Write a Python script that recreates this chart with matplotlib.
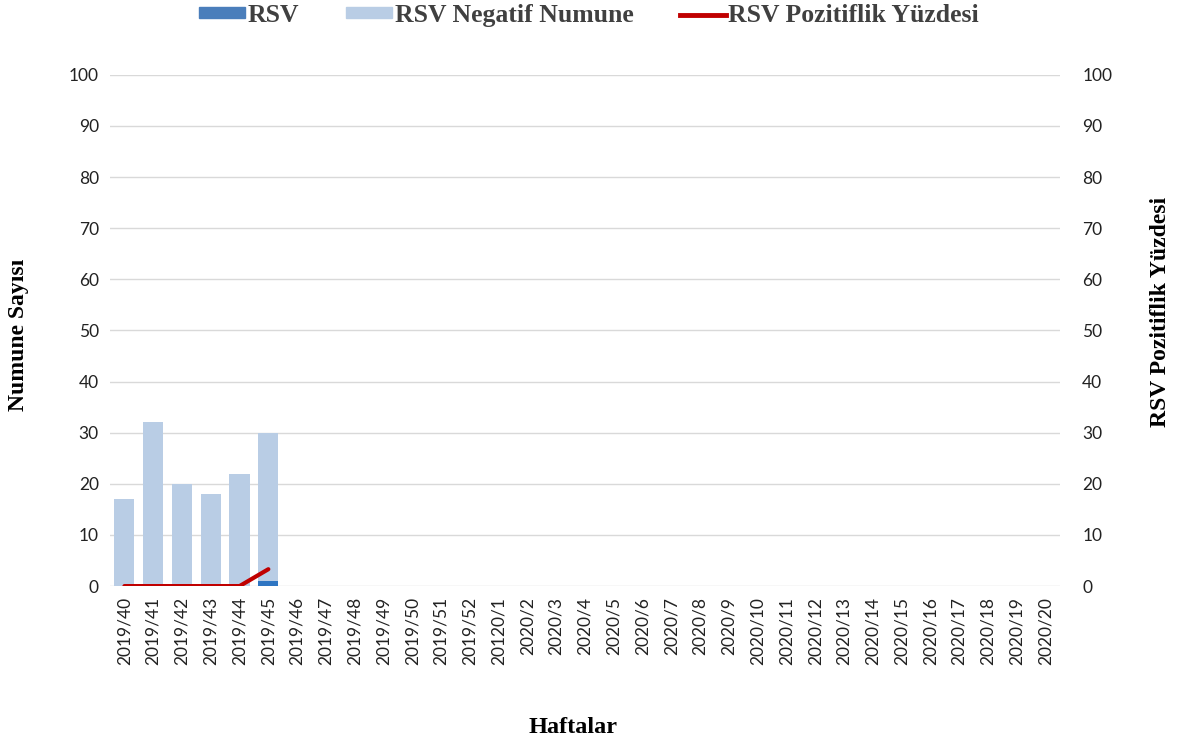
import matplotlib.pyplot as plt
from matplotlib.patches import Patch
from matplotlib.lines import Line2D

weeks = ["2019/40", "2019/41", "2019/42", "2019/43", "2019/44", "2019/45", "2019/46",
         "2019/47", "2019/48", "2019/49", "2019/50", "2019/51", "2019/52", "20120/1",
         "2020/2", "2020/3", "2020/4", "2020/5", "2020/6", "2020/7", "2020/8", "2020/9",
         "2020/10", "2020/11", "2020/12", "2020/13", "2020/14", "2020/15", "2020/16",
         "2020/17", "2020/18", "2020/19", "2020/20"]
rsv = [0, 0, 0, 0, 0, 1]
rsv_negatif = [17, 32, 20, 18, 22, 29]
pozitiflik = [0, 0, 0, 0, 0, 3.3]

c_rsv = "#2e75c2"
c_neg = "#b9cde5"
c_line = "#c00000"
serif = "Liberation Serif"
tick_font = "Lato"


def main():
    fig = plt.figure(figsize=(11.83, 7.4), dpi=100)
    ax = fig.add_axes([0.093, 0.208, 0.803, 0.691])
    x = list(range(len(weeks)))
    n = len(rsv)

    ax.bar(x[:n], rsv, width=0.7, color=c_rsv, zorder=2)
    ax.bar(x[:n], rsv_negatif, width=0.7, bottom=rsv, color=c_neg, zorder=2)

    ax.set_xlim(-0.5, len(weeks) - 0.5)
    ax.set_ylim(0, 100)
    ax.set_yticks(range(0, 101, 10))
    ax.set_xticks(x)
    ax.set_xticklabels(weeks, rotation=90, fontfamily=tick_font, fontsize=12, color="#222222")
    ax.grid(axis="y", color="#d9d9d9", lw=1, zorder=0)
    for s in ax.spines.values():
        s.set_visible(False)
    ax.tick_params(length=0, labelsize=12.5, labelcolor="#222222", pad=8)
    for t in ax.get_yticklabels():
        t.set_fontfamily(tick_font)

    ax2 = ax.twinx()
    ax2.plot(x[:n], pozitiflik, color=c_line, lw=3, solid_capstyle="round", zorder=3)
    ax2.set_ylim(0, 100)
    ax2.set_yticks(range(0, 101, 10))
    for s in ax2.spines.values():
        s.set_visible(False)
    ax2.tick_params(length=0, labelsize=12.5, labelcolor="#222222", pad=16)
    for t in ax2.get_yticklabels():
        t.set_fontfamily(tick_font)

    fig.text(0.016, 0.547, "Numune Sayısı", rotation=90, ha="center", va="center",
             fontfamily=serif, fontweight="bold", fontsize=17)
    fig.text(0.981, 0.578, "RSV Pozitiflik Yüzdesi", rotation=90, ha="center", va="center",
             fontfamily=serif, fontweight="bold", fontsize=17)
    fig.text(0.484, 0.017, "Haftalar", ha="center", va="center",
             fontfamily=serif, fontweight="bold", fontsize=17.5)

    handles = [Patch(color="#4a7ebb"), Patch(color=c_neg), Line2D([], [], color=c_line, lw=3.5)]
    labels = ["RSV", "RSV Negatif Numune", "RSV Pozitiflik Yüzdesi"]
    fig.legend(handles, labels, loc="center", bbox_to_anchor=(0.498, 0.979), ncol=3,
               frameon=False, handlelength=1.8, handleheight=0.3, handletextpad=0.1,
               columnspacing=1.8, prop={"family": serif, "weight": "bold", "size": 18.5},
               labelcolor="#404040")

    fig.savefig("out.png", dpi=100)


if __name__ == "__main__":
    main()
